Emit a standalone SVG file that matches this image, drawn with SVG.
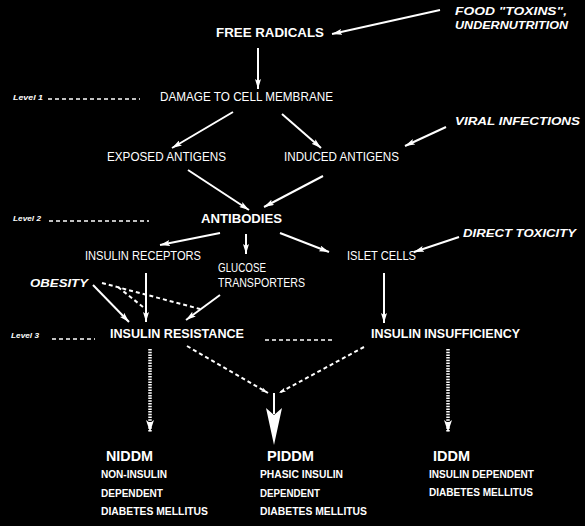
<svg xmlns="http://www.w3.org/2000/svg" width="585" height="526" viewBox="0 0 585 526" xml:space="preserve">
<defs>
<style>
text{fill:#fff;font-family:"Liberation Sans",Arial,sans-serif}
.n{font-size:13px}
.b{font-size:13px;font-weight:bold}
.bi{font-size:11px;font-weight:bold;font-style:italic}
.lv{font-size:7px;font-weight:bold;font-style:italic}
.big{font-size:15px;font-weight:bold}
.sm{font-size:10px;font-weight:bold}
.ln{stroke:#fff;stroke-width:2;fill:none}
.da{stroke:#fff;stroke-width:2;fill:none;stroke-dasharray:4 3}
.lvd{stroke:#fff;stroke-width:1.5;fill:none;stroke-dasharray:4 3}
.hat{stroke:#fff;stroke-width:3.5;fill:none;stroke-dasharray:1.5 1.2}
</style>
<marker id="ah" viewBox="0 0 10 6" refX="10" refY="3" markerWidth="10" markerHeight="6" markerUnits="userSpaceOnUse" orient="auto">
<path d="M0,0 L10,3 L0,6 L2,3 Z" fill="#fff"/>
</marker>
<marker id="ahs" viewBox="0 0 10 6" refX="10" refY="3" markerWidth="7" markerHeight="5" markerUnits="userSpaceOnUse" orient="auto">
<path d="M0,0 L10,3 L0,6 L2,3 Z" fill="#fff"/>
</marker>
<marker id="ahl" viewBox="0 0 12 8" refX="12" refY="4" markerWidth="12" markerHeight="8" markerUnits="userSpaceOnUse" orient="auto">
<path d="M0,0 L12,4 L0,8 L3,4 Z" fill="#fff"/>
</marker>
</defs>
<rect width="585" height="526" fill="#000"/>

<g id="connectors">
<line class="ln" x1="440" y1="10" x2="332" y2="34" marker-end="url(#ah)"/>
<line class="ln" x1="258" y1="48" x2="258" y2="89" marker-end="url(#ah)"/>
<line class="ln" x1="233" y1="112" x2="172" y2="148" marker-end="url(#ah)"/>
<line class="ln" x1="282" y1="114" x2="321" y2="148" marker-end="url(#ah)"/>
<line class="ln" x1="446" y1="127" x2="405" y2="146" marker-end="url(#ah)"/>
<line class="ln" x1="188" y1="170" x2="249" y2="210" marker-end="url(#ah)"/>
<line class="ln" x1="323" y1="176" x2="264" y2="207" marker-end="url(#ah)"/>
<line class="ln" x1="220" y1="233" x2="160" y2="245" marker-end="url(#ah)"/>
<line class="ln" x1="246" y1="234" x2="246" y2="254" marker-end="url(#ah)"/>
<line class="ln" x1="280" y1="233" x2="329" y2="252" marker-end="url(#ah)"/>
<line class="ln" x1="459" y1="237" x2="414" y2="252" marker-end="url(#ah)"/>
<line class="ln" x1="146" y1="273" x2="146" y2="322" marker-end="url(#ah)"/>
<line class="ln" x1="93" y1="285" x2="129" y2="322" marker-end="url(#ah)"/>
<line class="ln" x1="220" y1="295" x2="186" y2="320" marker-end="url(#ah)"/>
<line class="ln" x1="384" y1="273" x2="384" y2="323" marker-end="url(#ah)"/>
<line class="da" x1="102" y1="283" x2="200" y2="309"/>
<line class="da" x1="118" y1="287" x2="143" y2="307"/>
<line class="lvd" x1="48" y1="99" x2="140" y2="99"/>
<line class="lvd" x1="49" y1="221" x2="149" y2="221"/>
<line class="lvd" x1="52" y1="339" x2="95" y2="339"/>
<line class="lvd" x1="265" y1="340" x2="333" y2="340"/>
<line class="da" x1="187" y1="346" x2="268" y2="393" marker-end="url(#ahs)"/>
<line class="da" x1="364" y1="347" x2="279" y2="393" marker-end="url(#ahs)"/>
<line class="ln" x1="274" y1="393" x2="274" y2="414"/>
<path d="M274,445 L266,408 L274,415 L282,408 Z" fill="#fff"/>
<line class="hat" x1="150" y1="349" x2="150" y2="432" marker-end="url(#ahl)"/>
<line class="hat" x1="448" y1="349" x2="448" y2="432" marker-end="url(#ahl)"/>
</g>

<g id="food_toxins"><text class="bi" x="455" y="15" textLength="112" lengthAdjust="spacingAndGlyphs">FOOD  "TOXINS",</text><text class="bi" x="455" y="29" textLength="113" lengthAdjust="spacingAndGlyphs">UNDERNUTRITION</text></g>
<g id="free_radicals"><text class="b" x="216" y="37" textLength="108" lengthAdjust="spacingAndGlyphs">FREE  RADICALS</text></g>
<g id="level1"><text class="lv" x="13" y="100" textLength="30" lengthAdjust="spacingAndGlyphs">Level 1</text></g>
<g id="damage"><text class="n" x="160" y="101" textLength="173" lengthAdjust="spacingAndGlyphs">DAMAGE TO CELL MEMBRANE</text></g>
<g id="viral"><text class="bi" x="455" y="125" textLength="125" lengthAdjust="spacingAndGlyphs">VIRAL  INFECTIONS</text></g>
<g id="exposed"><text class="n" x="107" y="161" textLength="119" lengthAdjust="spacingAndGlyphs">EXPOSED ANTIGENS</text></g>
<g id="induced"><text class="n" x="284" y="161" textLength="115" lengthAdjust="spacingAndGlyphs">INDUCED  ANTIGENS</text></g>
<g id="level2"><text class="lv" x="13" y="221" textLength="28" lengthAdjust="spacingAndGlyphs">Level 2</text></g>
<g id="antibodies"><text class="b" x="201" y="223" textLength="81" lengthAdjust="spacingAndGlyphs">ANTIBODIES</text></g>
<g id="direct_toxicity"><text class="bi" x="463" y="237" textLength="113" lengthAdjust="spacingAndGlyphs">DIRECT  TOXICITY</text></g>
<g id="insulin_receptors"><text class="n" x="85" y="260" textLength="116" lengthAdjust="spacingAndGlyphs">INSULIN RECEPTORS</text></g>
<g id="islet_cells"><text class="n" x="347" y="260" textLength="69" lengthAdjust="spacingAndGlyphs">ISLET CELLS</text></g>
<g id="glucose"><text class="n" x="218" y="272" textLength="48" lengthAdjust="spacingAndGlyphs">GLUCOSE</text><text class="n" x="218" y="287" textLength="87" lengthAdjust="spacingAndGlyphs">TRANSPORTERS</text></g>
<g id="obesity"><text class="bi" x="30" y="287" textLength="58" lengthAdjust="spacingAndGlyphs">OBESITY</text></g>
<g id="level3"><text class="lv" x="11" y="338" textLength="28" lengthAdjust="spacingAndGlyphs">Level 3</text></g>
<g id="insulin_resistance"><text class="b" x="110" y="338" textLength="134" lengthAdjust="spacingAndGlyphs">INSULIN  RESISTANCE</text></g>
<g id="insulin_insufficiency"><text class="b" x="371" y="338" textLength="149" lengthAdjust="spacingAndGlyphs">INSULIN  INSUFFICIENCY</text></g>
<g id="niddm"><text class="big" x="106" y="461" textLength="47" lengthAdjust="spacingAndGlyphs">NIDDM</text><text class="sm" x="101" y="478" textLength="66" lengthAdjust="spacingAndGlyphs">NON-INSULIN</text><text class="sm" x="101" y="497" textLength="62" lengthAdjust="spacingAndGlyphs">DEPENDENT</text><text class="sm" x="101" y="515" textLength="107" lengthAdjust="spacingAndGlyphs">DIABETES  MELLITUS</text></g>
<g id="piddm"><text class="big" x="267" y="461" textLength="47" lengthAdjust="spacingAndGlyphs">PIDDM</text><text class="sm" x="260" y="478" textLength="83" lengthAdjust="spacingAndGlyphs">PHASIC  INSULIN</text><text class="sm" x="260" y="497" textLength="60" lengthAdjust="spacingAndGlyphs">DEPENDENT</text><text class="sm" x="260" y="515" textLength="107" lengthAdjust="spacingAndGlyphs">DIABETES  MELLITUS</text></g>
<g id="iddm"><text class="big" x="433" y="461" textLength="37" lengthAdjust="spacingAndGlyphs">IDDM</text><text class="sm" x="429" y="478" textLength="105" lengthAdjust="spacingAndGlyphs">INSULIN  DEPENDENT</text><text class="sm" x="429" y="496" textLength="104" lengthAdjust="spacingAndGlyphs">DIABETES  MELLITUS</text></g>
</svg>
